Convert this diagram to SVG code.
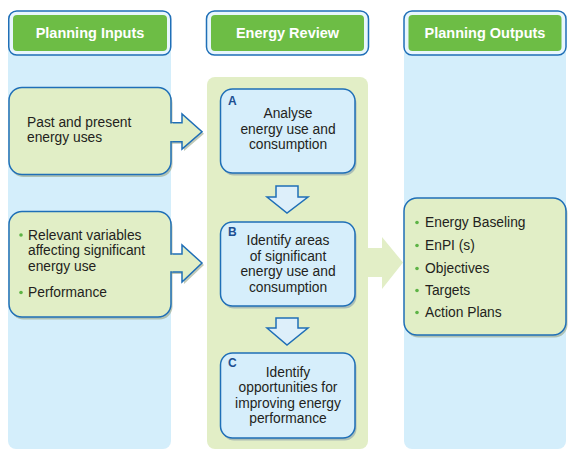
<svg xmlns="http://www.w3.org/2000/svg" width="576" height="457" viewBox="0 0 576 457">
<style>
.col{fill:#D4EEFB}
.mid{fill:#E2EEC6}
.hdo{fill:#E8F6FD;stroke:#1F6FB7;stroke-width:1.5}
.hdi{fill:#6DBD45}
.ht{font-family:"Liberation Sans",Arial,sans-serif;font-weight:bold;font-size:14.5px;fill:#fff;text-anchor:middle}
.gb{fill:#E1EEC6;stroke:#1F6FB7;stroke-width:1.5}
.bb{fill:#D6EEFB;stroke:#1F6FB7;stroke-width:1.5}
.sh{fill:#8E9C7A;opacity:.55}
.shb{fill:#7F97A8;opacity:.55}
.t{font-family:"Liberation Sans",Arial,sans-serif;font-size:13.8px;fill:#231F20}
.tc{font-family:"Liberation Sans",Arial,sans-serif;font-size:13.8px;fill:#231F20;text-anchor:middle}
.lt{font-family:"Liberation Sans",Arial,sans-serif;font-size:12px;font-weight:bold;fill:#1D4F91}
.bul{fill:#5DB346}
.af{fill:#E1EEC6}
.as{fill:none;stroke:#1F6FB7;stroke-width:1.5;stroke-linejoin:miter}
.da{fill:#DDEFFA;stroke:#1F6FB7;stroke-width:1.5}
</style>
<rect x="0" y="0" width="576" height="457" fill="#fff"/>
<g id="columns">
<rect class="col" x="8" y="12" width="163" height="437" rx="8"/>
<rect class="mid" x="207" y="77" width="161" height="372" rx="8"/>
<rect class="col" x="404" y="12" width="162" height="437" rx="8"/>
</g>
<g id="header-inputs">
<rect class="hdo" x="8.75" y="11" width="162" height="44" rx="8"/>
<rect class="hdi" x="13" y="15" width="154" height="36" rx="4"/>
<text class="ht" x="90" y="37.5">Planning Inputs</text>
</g>
<g id="header-review">
<rect class="hdo" x="206.5" y="11" width="162" height="44" rx="8"/>
<rect class="hdi" x="211" y="15" width="153" height="36" rx="4"/>
<text class="ht" x="287.5" y="37.5">Energy Review</text>
</g>
<g id="header-outputs">
<rect class="hdo" x="404" y="11" width="162" height="44" rx="8"/>
<rect class="hdi" x="408.5" y="15" width="153" height="36" rx="4"/>
<text class="ht" x="485" y="37.5">Planning Outputs</text>
</g>
<g id="connectors">
<polygon class="sh" points="172,124.7 184,124.7 184,116 204,133.7 184,151 184,143.7 172,143.7"/>
<polygon class="af" points="168,122.7 182,122.7 182,114 202,131.7 182,149 182,141.7 168,141.7"/>
<polyline class="as" points="170.5,122.7 182,122.7 182,114 202,131.7 182,149 182,141.7 170.5,141.7"/>
<polygon class="sh" points="172,256 184,256 184,247 204,265 184,284 184,274 172,274"/>
<polygon class="af" points="168,254 182,254 182,245 202,263 182,282 182,272 168,272"/>
<polyline class="as" points="170.5,254 182,254 182,245 202,263 182,282 182,272 170.5,272"/>
<polygon class="da" points="276,186 298,186 298,197 308,197 287,213 267,197 276,197"/>
<polygon class="da" points="276,318 298,318 298,328 308,328 287,345 267,328 276,328"/>
<polygon class="mid" points="368,248 382,248 382,237 403,262.5 382,289 382,277 368,277"/>
</g>
<g id="input-past">
<rect class="sh" x="10.5" y="90" width="162" height="87" rx="13"/>
<rect class="gb" x="9" y="87.5" width="162" height="87" rx="13"/>
<polygon class="af" points="169,123.5 173,123.5 173,141 169,141"/>
<text class="t" x="27" y="127">Past and present</text>
<text class="t" x="27" y="142">energy uses</text>
</g>
<g id="input-variables">
<rect class="sh" x="10.5" y="214" width="162" height="105.5" rx="13"/>
<rect class="gb" x="9" y="211.5" width="162" height="105.5" rx="13"/>
<polygon class="af" points="169,254.8 173,254.8 173,271.2 169,271.2"/>
<circle class="bul" cx="21" cy="235" r="1.8"/>
<text class="t" x="28" y="239.5">Relevant variables</text>
<text class="t" x="28" y="255">affecting significant</text>
<text class="t" x="28" y="270.5">energy use</text>
<circle class="bul" cx="21" cy="292.5" r="1.8"/>
<text class="t" x="28" y="297">Performance</text>
</g>
<g id="review-a">
<rect class="shb" x="222" y="91.5" width="134.5" height="84" rx="12"/>
<rect class="bb" x="220.5" y="89" width="134.5" height="84" rx="12"/>
<text class="lt" x="228" y="105">A</text>
<text class="tc" x="288" y="118">Analyse</text>
<text class="tc" x="288" y="133.5">energy use and</text>
<text class="tc" x="288" y="149">consumption</text>
</g>
<g id="review-b">
<rect class="shb" x="222" y="224.5" width="134.5" height="84" rx="12"/>
<rect class="bb" x="220.5" y="222" width="134.5" height="84" rx="12"/>
<text class="lt" x="228" y="236">B</text>
<text class="tc" x="288" y="245">Identify areas</text>
<text class="tc" x="288" y="260.5">of significant</text>
<text class="tc" x="288" y="276">energy use and</text>
<text class="tc" x="288" y="291.5">consumption</text>
</g>
<g id="review-c">
<rect class="shb" x="222" y="355.5" width="134.5" height="85" rx="12"/>
<rect class="bb" x="220.5" y="353" width="134.5" height="85" rx="12"/>
<text class="lt" x="228" y="367">C</text>
<text class="tc" x="288" y="377">Identify</text>
<text class="tc" x="288" y="392">opportunities for</text>
<text class="tc" x="288" y="407.5">improving energy</text>
<text class="tc" x="288" y="423">performance</text>
</g>
<g id="outputs">
<rect class="sh" x="405.5" y="200.5" width="162" height="137" rx="13"/>
<rect class="gb" x="404" y="198" width="162" height="137" rx="13"/>
<circle class="bul" cx="417" cy="222.5" r="1.8"/>
<text class="t" x="425" y="227">Energy Baseling</text>
<circle class="bul" cx="417" cy="245.5" r="1.8"/>
<text class="t" x="425" y="250">EnPI (s)</text>
<circle class="bul" cx="417" cy="268.5" r="1.8"/>
<text class="t" x="425" y="273">Objectives</text>
<circle class="bul" cx="417" cy="290.5" r="1.8"/>
<text class="t" x="425" y="295">Targets</text>
<circle class="bul" cx="417" cy="312.5" r="1.8"/>
<text class="t" x="425" y="317">Action Plans</text>
</g>
</svg>
